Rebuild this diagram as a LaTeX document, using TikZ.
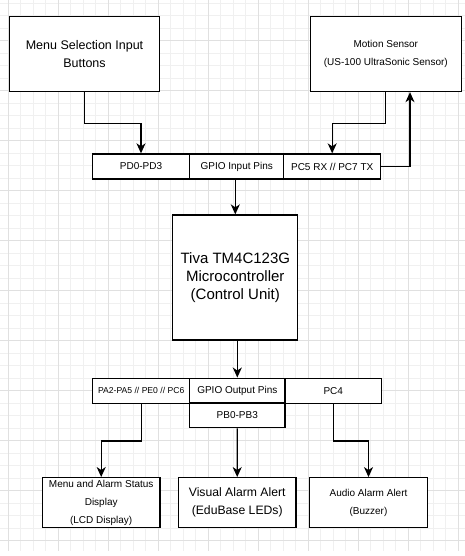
\documentclass[tikz,border=0pt]{standalone}
\usepackage{fontspec}
\setmainfont{Liberation Sans}
\usetikzlibrary{arrows.meta}

\tikzset{
  box/.style={draw=black, line width=1.3pt, fill=white, align=center, inner sep=0pt},
  cell/.style={box, minimum height=25pt},
  conn/.style={-{Stealth[length=10pt,width=9pt,inset=3pt]}, line width=1.3pt},
}
\newcommand{\fs}[2]{\fontsize{#1}{#2}\selectfont}

\begin{document}
\begin{tikzpicture}[x=1pt,y=-1pt]
\useasboundingbox (0,0) rectangle (465,556);
% background grid
\foreach \gx in {0,...,37} \draw[black!6, line width=0.8pt] (8.3+12.5*\gx,0) -- (8.3+12.5*\gx,551);
\foreach \gy in {0,...,43} \draw[black!6, line width=0.8pt] (0,3.2+12.5*\gy) -- (465,3.2+12.5*\gy);
\foreach \gx in {0,...,9} \draw[black!12, line width=0.8pt] (8.3+50*\gx,0) -- (8.3+50*\gx,551);
\foreach \gy in {0,...,10} \draw[black!12, line width=0.8pt] (0,40.7+50*\gy) -- (465,40.7+50*\gy);

% input side
\node[box, minimum width=150pt, minimum height=75pt, font=\fs{12.5}{17.7}] (menu) at (84.5,54) {Menu Selection Input\\Buttons};
\node[box, minimum width=151pt, minimum height=75pt, font=\fs{10}{17.7}] (motion) at (385.8,54) {Motion Sensor\\(US-100 UltraSonic Sensor)};

\node[cell, minimum width=97.4pt, font=\fs{10}{12}] (pd) at (141,166.5) {PD0-PD3};
\node[cell, minimum width=94pt, font=\fs{10}{12}] (gin) at (236.7,166.5) {GPIO Input Pins};
\node[cell, minimum width=97pt, font=\fs{10}{12}] (pc) at (332.2,166.5) {PC5 RX // PC7 TX};

% control unit
\node[box, minimum width=125pt, minimum height=125pt, font=\fs{15}{18}] (mcu) at (235.3,277.5) {Tiva TM4C123G\\Microcontroller\\(Control Unit)};

% output side
\node[cell, minimum width=97pt, font=\fs{8.6}{10}] (pa) at (141.2,390.7) {PA2-PA5 // PE0 // PC6};
\node[cell, minimum width=95.3pt, font=\fs{10}{12}] (gout) at (237.3,390.7) {GPIO Output Pins};
\node[cell, minimum width=96.7pt, font=\fs{10}{12}] (pc4) at (333.3,390.7) {PC4};
\node[cell, minimum width=95.3pt, minimum height=24.7pt, font=\fs{10}{12}] (pb) at (237.3,415.4) {PB0-PB3};

\node[box, minimum width=117.7pt, minimum height=50pt, font=\fs{10}{17.8}] (lcd) at (101.2,502.7) {Menu and Alarm Status\\Display\\(LCD Display)};
\node[box, minimum width=117.7pt, minimum height=50pt, font=\fs{12.2}{18}] (led) at (237.2,502.7) {Visual Alarm Alert\\(EduBase LEDs)};
\node[box, minimum width=117.6pt, minimum height=50pt, font=\fs{10}{18}] (buz) at (368.5,502.7) {Audio Alarm Alert\\(Buzzer)};

% connectors
\draw[conn] (menu.south) -- ++(0,31.7) -| (pd.north);
\draw[conn] (motion.south) -- ++(0,31.7) -| (pc.north);
\draw[conn] (pc.east) -| ([xshift=24.2pt]motion.south);
\draw[conn] (mcu.north |- gin.south) -- (mcu.north);
\draw[conn] (gout.north |- mcu.south) -- (gout.north);
\draw[conn] (pa.south) -- ++(0,37) -| (lcd.north);
\draw[conn] (pb.south) -- (led.north);
\draw[conn] (pc4.south) -- ++(0,37) -| (buz.north);
\end{tikzpicture}
\end{document}
